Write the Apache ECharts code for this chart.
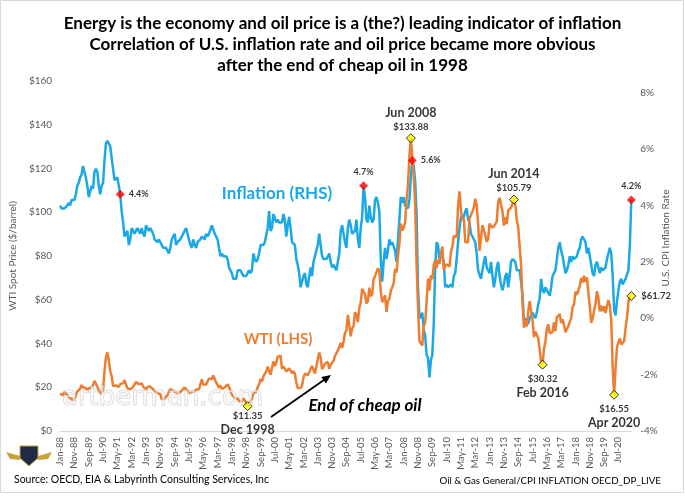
<!DOCTYPE html>
<html>
<head>
<meta charset="utf-8">
<script src="https://cdn.jsdelivr.net/npm/echarts@6/dist/echarts.min.js"></script>
<style>
html,body{margin:0;padding:0;background:#fff;}
#chart{width:685px;height:496px;}
</style>
</head>
<body>
<div id="chart"></div>
<script>
// ---- DATA ----
const titleLines = [
  'Energy is the economy and oil price is a (the?) leading indicator of inflation',
  'Correlation of U.S. inflation rate and oil price became more obvious',
  'after the end of cheap oil in 1998'
];
const monthNames = ['Jan','Feb','Mar','Apr','May','Jun','Jul','Aug','Sep','Oct','Nov','Dec'];
const startYear = 1988, endYear = 2021, endMonth = 4;

// WTI spot price, $/barrel, monthly Jan-1988 .. Apr-2021
const wtiPrice = [
  17.2,16.8,16.2,17.9,17.4,16.5,15.5,15.5,14.5,13.8,14.0,16.3,
  18.0,17.8,19.4,21.0,20.0,20.0,19.6,18.5,19.6,20.1,19.8,21.1,
  22.9,22.1,20.4,18.4,18.2,16.9,18.6,27.2,33.7,35.9,32.3,27.3,
  25.2,20.5,19.9,20.8,21.2,20.2,21.4,21.7,21.9,23.2,22.5,19.5,
  18.8,19.0,18.9,20.2,20.9,22.4,21.8,21.4,21.9,21.7,20.3,19.4,
  19.1,20.1,20.3,20.3,19.9,19.1,17.9,18.0,17.5,18.1,16.7,14.5,
  15.0,14.8,14.7,16.4,17.9,19.1,19.7,18.4,17.5,17.7,18.1,17.2,
  18.0,18.5,18.6,19.9,19.7,18.4,17.3,17.9,17.9,17.4,18.0,19.0,
  18.9,19.1,21.4,23.6,21.2,20.4,21.3,22.0,24.0,24.9,23.7,25.4,
  25.2,22.2,21.0,19.7,20.8,19.3,19.7,19.9,19.8,21.3,20.2,18.3,
  16.7,16.1,15.0,15.4,14.9,13.7,14.1,13.4,15.0,14.4,12.9,11.35,
  12.5,12.0,14.7,17.3,17.8,17.9,20.1,21.3,23.9,22.6,25.0,26.1,
  27.2,29.4,29.9,25.7,28.8,31.8,29.7,31.3,33.9,33.1,34.4,28.5,
  29.6,29.6,27.2,27.4,28.6,27.6,26.4,27.4,26.2,22.2,19.6,19.3,
  19.7,20.7,24.5,26.2,27.0,25.5,26.9,28.4,29.7,28.9,26.3,29.4,
  32.9,35.9,33.5,28.3,28.1,30.7,30.8,31.6,28.3,30.3,31.1,32.1,
  34.3,34.7,36.7,36.7,40.3,38.0,40.8,44.9,46.0,53.1,48.5,43.3,
  46.8,48.0,54.3,53.0,49.8,56.3,58.7,65.0,65.6,62.4,58.3,59.4,
  65.5,61.6,62.7,69.4,70.8,70.9,74.4,73.0,63.8,58.9,59.1,62.0,
  54.5,59.3,60.4,64.0,63.5,67.5,74.1,72.4,79.9,85.8,94.8,91.7,
  93.0,95.4,105.5,112.6,125.4,133.88,133.4,116.7,104.1,76.6,57.3,41.1,
  41.7,39.1,47.9,49.6,59.0,69.6,64.2,71.1,69.4,75.7,78.0,74.5,
  78.3,76.4,81.2,84.3,73.7,75.3,76.3,76.6,75.2,81.9,84.3,89.2,
  89.2,88.6,102.9,109.5,100.9,96.3,97.3,86.3,85.5,86.3,97.2,98.6,
  100.3,102.2,106.2,103.3,94.7,82.3,87.9,94.1,94.5,89.5,86.5,87.9,
  94.8,95.3,92.9,92.0,94.5,95.8,104.6,106.6,106.3,100.5,93.9,97.6,
  94.6,100.8,100.8,102.1,102.2,105.79,103.6,96.5,93.2,84.4,75.8,59.3,
  47.2,50.6,47.8,54.5,59.3,59.8,50.9,42.9,45.5,46.2,42.4,37.2,
  31.7,30.32,37.5,40.8,46.7,48.8,44.7,44.7,45.2,49.8,45.7,52.0,
  52.5,53.5,49.3,51.1,48.5,45.2,46.6,48.0,49.8,51.6,56.6,57.9,
  63.7,62.2,62.7,66.3,70.0,67.9,71.0,68.1,70.2,70.8,57.0,49.5,
  51.4,55.0,58.2,63.9,60.8,54.7,57.4,54.8,57.0,54.0,57.0,59.9,
  57.5,50.5,29.2,16.55,28.6,38.3,40.7,42.3,39.6,39.4,41.0,47.0,
  52.0,59.0,62.3,61.72
];

// U.S. CPI inflation rate, % y/y, monthly Jan-1988 .. Apr-2021
const cpiInflation = [
  4.0,3.9,3.9,3.9,3.9,4.0,4.1,4.0,4.2,4.2,4.2,4.4,
  4.7,4.8,5.0,5.1,5.4,5.2,5.0,4.7,4.3,4.5,4.7,4.6,
  5.2,5.3,5.2,4.7,4.4,4.7,4.8,5.6,6.2,6.3,6.3,6.1,
  5.7,5.3,4.9,4.9,5.0,4.7,4.4,3.8,3.4,2.9,3.0,3.1,
  2.6,2.8,3.2,3.2,3.0,3.1,3.2,3.1,3.0,3.2,3.0,2.9,
  3.3,3.2,3.1,3.2,3.2,3.0,2.8,2.8,2.7,2.8,2.7,2.7,
  2.5,2.5,2.5,2.4,2.3,2.5,2.8,2.9,3.0,2.6,2.7,2.7,
  2.8,2.9,2.9,3.1,3.2,3.0,2.8,2.6,2.5,2.8,2.6,2.5,
  2.7,2.7,2.8,2.9,2.9,2.8,3.0,2.9,3.0,3.0,3.3,3.3,
  3.0,3.0,2.8,2.5,2.2,2.3,2.2,2.2,2.2,2.1,1.8,1.7,
  1.6,1.4,1.4,1.4,1.7,1.7,1.7,1.6,1.5,1.5,1.5,1.6,
  1.7,1.6,1.7,2.3,2.1,2.0,2.1,2.3,2.6,2.6,2.6,2.7,
  2.7,3.2,3.8,3.1,3.2,3.7,3.7,3.4,3.5,3.4,3.4,3.4,
  3.7,3.5,2.9,3.3,3.6,3.2,2.7,2.7,2.6,2.1,1.9,1.6,
  1.1,1.1,1.5,1.6,1.2,1.1,1.5,1.8,1.5,2.0,2.2,2.4,
  2.6,3.0,3.0,2.2,2.1,2.1,2.1,2.2,2.3,2.0,1.8,1.9,
  1.9,1.7,1.7,2.3,3.1,3.3,3.0,2.7,2.5,3.2,3.5,3.3,
  3.0,3.0,3.1,3.5,2.8,2.5,3.2,3.6,4.7,4.3,3.5,3.4,
  4.0,3.6,3.4,3.5,4.2,4.3,4.1,3.8,2.1,1.3,2.0,2.5,
  2.1,2.4,2.8,2.6,2.7,2.7,2.4,2.0,2.8,3.5,4.3,4.1,
  4.3,4.0,4.0,3.9,4.2,5.0,5.6,5.4,4.9,3.7,1.1,0.1,
  0.0,0.2,-0.4,-0.6,-1.3,-1.4,-2.1,-1.5,-1.3,-0.2,1.8,2.7,
  2.6,2.1,2.3,2.2,2.0,1.1,1.2,1.1,1.1,1.2,1.1,1.5,
  1.6,2.1,2.7,3.2,3.6,3.6,3.6,3.8,3.9,3.5,3.4,3.0,
  2.9,2.9,2.7,2.3,1.7,1.7,1.4,1.7,2.0,2.2,1.8,1.7,
  1.6,2.0,1.5,1.1,1.4,1.8,2.0,1.5,1.2,1.0,1.2,1.5,
  1.6,1.1,1.5,2.0,2.1,2.1,2.0,1.7,1.7,1.7,1.3,0.8,
  -0.1,0.0,-0.1,-0.2,0.0,0.1,0.2,0.2,0.0,0.2,0.5,0.7,
  1.4,1.0,0.9,1.1,1.0,1.0,0.8,1.1,1.5,1.6,1.7,2.1,
  2.5,2.7,2.4,2.2,1.9,1.6,1.7,1.9,2.2,2.0,2.2,2.1,
  2.1,2.2,2.4,2.5,2.8,2.9,2.9,2.7,2.3,2.5,2.2,1.9,
  1.6,1.5,1.9,2.0,1.8,1.6,1.8,1.7,1.7,1.8,2.1,2.3,
  2.5,2.3,1.5,0.3,0.1,0.6,1.0,1.3,1.4,1.2,1.2,1.4,
  1.4,1.7,2.6,4.2
];

// highlighted points
const wtiMarkMonths = ['Dec-98','Jun-08','Jun-14','Feb-16','Apr-20','Apr-21'];
const wtiMarkDates  = ['Dec 1998','Jun 2008','Jun 2014','Feb 2016','Apr 2020',''];
const cpiMarkMonths = ['Jul-91','Sep-05','Jul-08','Apr-21'];

const leftTicks = [0,20,40,60,80,100,120,140,160];
const rightTicks = [-4,-2,0,2,4,6,8];

// ---- BUILD ----
const categories = [];
for (let y = startYear; y <= endYear; y++) {
  for (let m = 0; m < 12; m++) {
    if (y === endYear && m >= endMonth) break;
    categories.push(monthNames[m] + '-' + String(y).slice(2));
  }
}
const idx = c => categories.indexOf(c);

const FONT = 'Lato, "Liberation Sans", sans-serif';
const BLUE = '#1AA9E6';
const ORANGE = '#ED7D31';

const wtiLabelPos = {
  'Dec-98': 'bottom', 'Jun-08': 'top', 'Jun-14': 'top',
  'Feb-16': 'bottom', 'Apr-20': 'bottom', 'Apr-21': 'right'
};
const wtiLabelDist = { 'Dec-98': -2, 'Jun-08': 0, 'Jun-14': 0, 'Feb-16': 3, 'Apr-20': 3, 'Apr-21': 5 };
const wtiMarkData = wtiMarkMonths.map((c, i) => {
  const v = wtiPrice[idx(c)];
  const pos = wtiLabelPos[c];
  const price = '$' + v.toFixed(2);
  let fmt;
  if (pos === 'top') fmt = '{d|' + wtiMarkDates[i] + '}\n{p|' + price + '}';
  else if (pos === 'bottom') fmt = '{p|' + price + '}\n{d|' + wtiMarkDates[i] + '}';
  else fmt = '{p|' + price + '}';
  return {
    value: [c, v],
    label: { show: true, position: pos, formatter: fmt, distance: wtiLabelDist[c], align: pos === 'right' ? 'left' : 'center' }
  };
});

const cpiLabelPos = { 'Jul-91': 'right', 'Sep-05': 'top', 'Jul-08': 'right', 'Apr-21': 'top' };
const cpiMarkData = cpiMarkMonths.map(c => {
  const v = cpiInflation[idx(c)];
  return {
    value: [c, v],
    label: { show: true, position: cpiLabelPos[c], formatter: v.toFixed(1) + '%', distance: cpiLabelPos[c] === 'right' ? 4 : 5 }
  };
});

const chart = echarts.init(document.getElementById('chart'), null, { renderer: 'canvas' });

// arrow geometry (annotation style)
const ax0 = [271, 417], ax1 = [331, 375];

chart.setOption({
  animation: false,
  backgroundColor: '#fff',
  textStyle: { fontFamily: FONT },
  title: {
    text: titleLines.join('\n'),
    left: 'center',
    top: 8,
    textStyle: { fontFamily: FONT, fontWeight: 'bold', fontSize: 17, lineHeight: 21, color: '#000' }
  },
  grid: { left: 55.4, right: 53.7, top: 81, bottom: 65, containLabel: false },
  xAxis: {
    type: 'category',
    data: categories,
    boundaryGap: false,
    axisLine: { show: true, lineStyle: { color: '#D9D9D9', width: 1 } },
    axisTick: { show: false },
    axisLabel: {
      interval: 9, rotate: 90, fontSize: 9.5, color: '#595959', fontFamily: FONT, margin: 6
    },
    splitLine: { show: false }
  },
  yAxis: [
    {
      type: 'value', min: leftTicks[0], max: leftTicks[leftTicks.length - 1], interval: 20,
      name: 'WTI Spot Price ($/barrel)', nameLocation: 'middle', nameGap: 36, nameRotate: 90,
      nameTextStyle: { fontSize: 10, color: '#595959', fontFamily: FONT },
      axisLine: { show: false }, axisTick: { show: false }, splitLine: { show: false },
      axisLabel: { formatter: v => '$' + v, fontSize: 10, color: '#595959', fontFamily: FONT, margin: 8 }
    },
    {
      type: 'value', min: rightTicks[0], max: 8.42, interval: 2,
      axisLine: { show: false }, axisTick: { show: false }, splitLine: { show: false },
      axisLabel: { formatter: v => v + '%', fontSize: 10, color: '#595959', fontFamily: FONT, margin: 9, showMaxLabel: false }
    }
  ],
  series: [
    {
      name: 'Inflation', type: 'line', yAxisIndex: 1, data: cpiInflation, showSymbol: false,
      lineStyle: { color: BLUE, width: 2.5 }, itemStyle: { color: BLUE }, z: 2
    },
    {
      name: 'WTI', type: 'line', yAxisIndex: 0, data: wtiPrice, showSymbol: false,
      lineStyle: { color: ORANGE, width: 2.5 }, itemStyle: { color: ORANGE }, z: 3
    },
    {
      name: 'CPI marks', type: 'scatter', yAxisIndex: 1, data: cpiMarkData,
      symbol: 'diamond', symbolSize: 9, itemStyle: { color: '#FF0000' }, z: 5,
      label: { fontFamily: FONT, fontWeight: 'bold', fontSize: 9, color: '#000' }
    },
    {
      name: 'WTI marks', type: 'scatter', yAxisIndex: 0, data: wtiMarkData,
      symbol: 'diamond', symbolSize: 9, itemStyle: { color: '#FFFF00', borderColor: '#000', borderWidth: 1 }, z: 6,
      label: {
        fontFamily: FONT, color: '#000',
        rich: {
          d: { fontFamily: FONT, fontWeight: 'bold', fontSize: 12.5, color: '#000', lineHeight: 15 },
          p: { fontFamily: FONT, fontWeight: 'bold', fontSize: 9.5, color: '#000', lineHeight: 13 }
        }
      }
    }
  ],
  graphic: [
    { type: 'rect', shape: { x: 0.5, y: 0.5, width: 683, height: 492 }, style: { fill: 'none', stroke: '#D9D9D9', lineWidth: 1 }, silent: true, z: 0 },
    { type: 'text', x: 666, y: 238, rotation: Math.PI / 2,
      style: { text: 'U.S. CPI Inflation Rate', fontSize: 10, fill: '#595959', fontFamily: FONT, align: 'center', verticalAlign: 'middle' } },
    { type: 'text', x: 277, y: 194,
      style: { text: 'Inflation (RHS)', fontSize: 17, fontWeight: 'bold', fill: BLUE, fontFamily: FONT, align: 'center', verticalAlign: 'middle' } },
    { type: 'text', x: 278, y: 339,
      style: { text: 'WTI (LHS)', fontSize: 15, fontWeight: 'bold', fill: ORANGE, fontFamily: FONT, align: 'center', verticalAlign: 'middle' } },
    { type: 'text', x: 365, y: 406,
      style: { text: 'End of cheap oil', fontSize: 17, fontWeight: 'bold', fontStyle: 'italic', fill: '#000', fontFamily: FONT, align: 'center', verticalAlign: 'middle' } },
    { type: 'line', shape: { x1: ax0[0], y1: ax0[1], x2: ax1[0] - 6, y2: ax1[1] + 4.2 }, style: { stroke: '#000', lineWidth: 1.8 } },
    { type: 'polygon', shape: { points: [[331, 375], [325.9, 383.5], [321.3, 376.9]] }, style: { fill: '#000' } },
    { type: 'text', x: 62, y: 398, z: 10,
      style: { text: 'artberman.com', fontSize: 26, fill: 'rgba(255,255,255,0.55)', stroke: 'rgba(150,150,150,0.45)', lineWidth: 1, fontFamily: '"DejaVu Sans", sans-serif', verticalAlign: 'middle' } },
    { type: 'text', x: 14, y: 480,
      style: { text: 'Source: OECD, EIA & Labyrinth Consulting Services, Inc', fontSize: 10.5, fill: '#000', fontFamily: FONT, verticalAlign: 'middle' } },
    { type: 'text', x: 661, y: 481,
      style: { text: 'Oil & Gas General/CPI INFLATION OECD_DP_LIVE', fontSize: 9.8, fill: '#000', fontFamily: FONT, align: 'right', verticalAlign: 'middle' } },
    // small logo bottom-left
    { type: 'polygon', z: 11, shape: { points: [[20, 446], [38, 446], [38, 458], [29, 466], [20, 458]] }, style: { fill: '#1F2A44', stroke: '#C9A23A', lineWidth: 1 } },
    { type: 'polygon', z: 11, shape: { points: [[6, 452], [20, 456], [20, 460], [10, 459]] }, style: { fill: '#C9A23A' } },
    { type: 'polygon', z: 11, shape: { points: [[52, 452], [38, 456], [38, 460], [48, 459]] }, style: { fill: '#C9A23A' } }
  ]
});
</script>
</body>
</html>
